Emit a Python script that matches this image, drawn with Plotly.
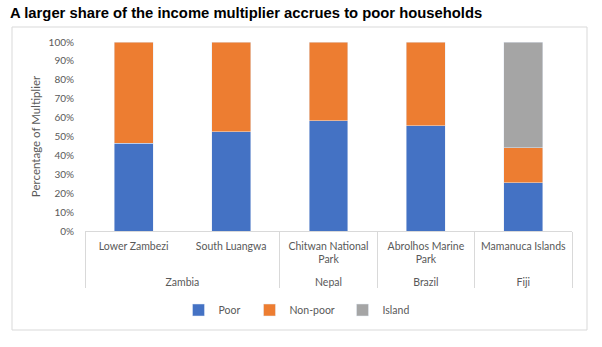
import plotly.graph_objects as go

countries = ["Zambia", "Zambia", "Nepal", "Brazil", "Fiji"]
sites = ["Lower Zambezi", "South Luangwa", "Chitwan National<br>Park",
         "Abrolhos Marine<br>Park", "Mamanuca Islands"]
poor = [46.5, 52.5, 58.4, 55.6, 25.4]
non_poor = [53.5, 47.5, 41.6, 44.4, 18.7]
island = [None, None, None, None, 55.9]
y_ticks = list(range(0, 101, 10))
y_labels = [f"{v}%" for v in y_ticks]

W, H = 602, 347
L, R, T, B = 85, 572, 42, 231  # plot area pixel bounds

# extra blank line under the site labels to open space above the country row
site_labels = [s + "<br> " for s in sites]
x = [countries, site_labels]
fig = go.Figure()
fig.add_bar(x=x, y=poor, name="Poor", marker_color="#4472C4", legendwidth=26)
fig.add_bar(x=x, y=non_poor, name="Non-poor", marker_color="#ED7D31", legendwidth=48)
fig.add_bar(x=x, y=island, name="Island", marker_color="#A5A5A5", legendwidth=32)

pw, ph = R - L, B - T
def px2x(p):
    return (p - L) / pw
def py2y(p):
    return (B - p) / ph

tickfont = dict(family="Lato, Noto Sans, sans-serif", size=10.5, color="#595959")
fig.update_layout(
    width=W, height=H,
    margin=dict(l=L, r=W - R, t=T, b=H - B, pad=0),
    paper_bgcolor="white", plot_bgcolor="white",
    barmode="stack", bargap=0.6,
    title=dict(text="<b>A larger share of the income multiplier accrues to poor households</b>",
               x=10 / W, y=1 - 13 / H, xanchor="left", yanchor="middle",
               xref="container", yref="container",
               font=dict(family="Liberation Sans, Arial, sans-serif", size=14.8, color="black")),
    xaxis=dict(type="multicategory", showline=True, linecolor="#D9D9D9", linewidth=1,
               showdividers=True, dividercolor="#D9D9D9", dividerwidth=1,
               ticks="", tickfont=tickfont, showgrid=False, ticklabelstandoff=5),
    yaxis=dict(range=[0, 100], tickmode="array", tickvals=y_ticks, ticktext=y_labels,
               showgrid=False, zeroline=False, showline=False,
               tickfont=dict(family="Lato, Noto Sans, sans-serif", size=10, color="#595959"),
               ticklabelstandoff=10,
               title=dict(text="Percentage of Multiplier", standoff=5,
                          font=dict(family="Lato, Noto Sans, sans-serif", size=11.5, color="#595959"))),
    legend=dict(orientation="h", x=px2x(299), xanchor="center", y=py2y(310), yanchor="middle",
                font=tickfont, traceorder="normal", itemwidth=30),
    showlegend=True,
    shapes=[dict(type="rect", xref="paper", yref="paper",
                 x0=px2x(12), x1=px2x(587), y0=py2y(330), y1=py2y(27),
                 line=dict(color="#D9D9D9", width=1), layer="below")],
)
fig.write_html("out.html")
